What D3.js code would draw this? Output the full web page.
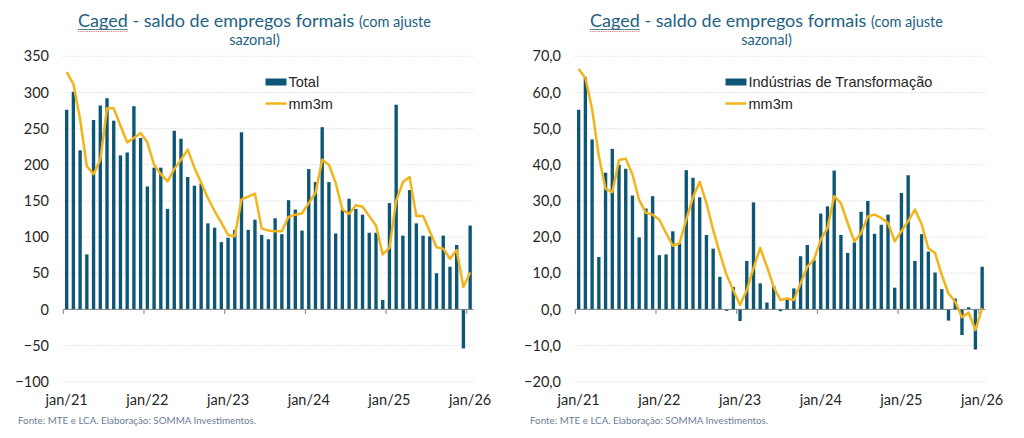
<!DOCTYPE html>
<html>
<head>
<meta charset="utf-8">
<script src="https://cdn.jsdelivr.net/npm/d3@7"></script>
<style>
  html, body { margin: 0; padding: 0; background: #fff; }
  svg { display: block; }
</style>
</head>
<body>
<div id="chart"></div>
<script>
// --- data (jan/21 .. jan/26, saldo mensal em mil)
const yearLabels = ['jan/21', 'jan/22', 'jan/23', 'jan/24', 'jan/25', 'jan/26'];

const total = [
  276, 301, 220, 76, 262, 282, 292, 261, 213, 217, 281, 237,
  170, 196, 196, 139, 247, 236, 183, 171, 174, 119, 113, 93,
  99, 110, 245, 110, 124, 103, 97, 126, 104, 151, 138, 109,
  194, 176, 252, 176, 105, 138, 153, 139, 131, 106, 106, 13,
  147, 283, 102, 165, 119, 102, 101, 50, 102, 59, 89, -54, 116
];
const totalMM3 = [
  328, 312, 263, 198, 187, 207, 278, 278, 254, 231, 237, 244,
  231, 200, 187, 177, 194, 207, 221, 196, 175, 154, 136, 120,
  103, 101, 152, 156, 160, 112, 109, 108, 108, 128, 131, 133,
  147, 161, 207, 200, 175, 138, 132, 144, 142, 129, 116, 76,
  85, 150, 176, 183, 129, 129, 108, 86, 84, 70, 82, 31, 51
];

const industria = [
  55.2, 64.2, 47.0, 14.5, 37.8, 44.4, 40.0, 38.9, 31.5, 19.9, 27.9, 31.3,
  15.0, 15.2, 21.6, 18.3, 38.5, 36.4, 31.0, 20.6, 16.8, 9.0, -0.4, 6.2,
  -3.2, 13.4, 29.6, 7.2, 1.9, 6.5, -0.5, 2.8, 5.8, 14.7, 17.8, 13.6,
  26.5, 28.5, 38.4, 20.6, 15.6, 18.5, 27.0, 30.0, 20.9, 23.4, 26.2, 6.0,
  32.2, 37.1, 13.4, 20.8, 16.0, 10.2, 5.6, -3.1, 3.0, -7.1, 0.6, -11.1, 11.8
];
const industriaMM3 = [
  66.5, 64.0, 55.4, 42.4, 33.3, 32.4, 41.3, 41.7, 37.3, 30.2, 26.7, 26.2,
  24.8, 21.1, 17.6, 18.3, 24.8, 31.0, 35.3, 29.4, 22.0, 15.5, 9.5, 5.3,
  1.2, 5.3, 11.4, 17.0, 11.8, 6.2, 2.6, 3.0, 2.6, 7.2, 11.8, 13.8,
  19.3, 22.5, 31.3, 29.4, 23.9, 18.8, 21.1, 25.7, 26.2, 25.3, 23.9, 18.8,
  21.6, 24.4, 27.6, 23.6, 16.9, 15.6, 9.5, 4.4, 2.1, -2.2, -0.9, -5.7, 0.3
];

const totalTicks = [-100, -50, 0, 50, 100, 150, 200, 250, 300, 350];
const industriaTicks = [-20, -10, 0, 10, 20, 30, 40, 50, 60, 70];

// --- constants
const width = 1024;
const height = 438;
const barColor = '#0d5675';
const lineColor = '#f1b41a';
const titleColor = '#22627f';
const tickFont = 'Lato, "Open Sans", sans-serif';

const ptBR = d3.formatLocale({ decimal: ',', thousands: '.', grouping: [3], currency: ['R$', ''] });

const svg = d3.select('#chart')
  .append('svg')
  .attr('width', width)
  .attr('height', height)
  .attr('viewBox', [0, 0, width, height]);

function drawPanel(opts) {
  const { offsetX, bars, line, ticks, tickFormat, legendLabel } = opts;
  const g = svg.append('g').attr('transform', `translate(${offsetX},0)`);

  const x0 = 63.3, x1 = 473.5;
  const x = d3.scaleBand()
    .domain(d3.range(bars.length))
    .range([x0, x1])
    .paddingInner(0.5)
    .paddingOuter(0.25);

  const y = d3.scaleLinear()
    .domain([ticks[0], ticks[ticks.length - 1]])
    .range([381.7, 56.3]);

  // --- title
  const title = g.append('text')
    .attr('x', 254.5)
    .attr('y', 27)
    .attr('text-anchor', 'middle')
    .attr('fill', titleColor)
    .attr('font-family', 'Lato, sans-serif');
  title.append('tspan').attr('font-size', 18).text('Caged - saldo de empregos formais ');
  title.append('tspan').attr('font-size', 14.5).text('(com ajuste');

  g.append('text')
    .attr('x', 254.5)
    .attr('y', 45)
    .attr('text-anchor', 'middle')
    .attr('fill', titleColor)
    .attr('font-family', 'Lato, sans-serif')
    .attr('font-size', 14.5)
    .text('sazonal)');

  // underline + spell-check squiggle under "Caged"
  const tb = title.node().getBBox();
  const cagedW = title.select('tspan').node().getSubStringLength(0, 5);
  g.append('line')
    .attr('x1', tb.x).attr('x2', tb.x + cagedW)
    .attr('y1', 29.5).attr('y2', 29.5)
    .attr('stroke', titleColor).attr('stroke-width', 0.8);
  g.append('line')
    .attr('x1', tb.x).attr('x2', tb.x + cagedW)
    .attr('y1', 31.5).attr('y2', 31.5)
    .attr('stroke', '#e06060').attr('stroke-width', 0.8)
    .attr('stroke-dasharray', '1.2 1');

  // --- grid
  g.append('g').selectAll('line')
    .data(ticks.filter(d => d !== 0))
    .join('line')
      .attr('x1', x0).attr('x2', x1)
      .attr('y1', d => y(d)).attr('y2', d => y(d))
      .attr('stroke', '#d6d6d6')
      .attr('stroke-width', 0.8)
      .attr('stroke-dasharray', '1.5 1.5');

  // --- y labels
  const yAxis = d3.axisLeft(y).tickValues(ticks).tickFormat(tickFormat).tickSize(0).tickPadding(0);
  const ya = g.append('g').attr('transform', 'translate(49,0)').call(yAxis);
  ya.select('.domain').remove();
  ya.selectAll('text')
    .attr('font-family', tickFont)
    .attr('font-size', 14.5)
    .attr('fill', '#262626');

  // --- bars
  g.append('g').selectAll('rect')
    .data(bars)
    .join('rect')
      .attr('x', (d, i) => x(i))
      .attr('width', x.bandwidth())
      .attr('y', d => y(Math.max(0, d)))
      .attr('height', d => Math.abs(y(d) - y(0)))
      .attr('fill', barColor);

  // --- zero axis + year ticks
  g.append('line')
    .attr('x1', x0).attr('x2', x1)
    .attr('y1', y(0)).attr('y2', y(0))
    .attr('stroke', '#7f7f7f').attr('stroke-width', 1);

  const yearIdx = yearLabels.map((_, k) => k * 12);
  g.append('g').selectAll('line')
    .data(yearIdx)
    .join('line')
      .attr('x1', i => x(i) - x.step() * x.paddingInner() / 2)
      .attr('x2', i => x(i) - x.step() * x.paddingInner() / 2)
      .attr('y1', y(0)).attr('y2', y(0) + 4.5)
      .attr('stroke', '#7f7f7f');

  // --- x labels
  g.append('g').selectAll('text')
    .data(yearLabels)
    .join('text')
      .attr('x', (d, k) => x(k * 12) + x.bandwidth() / 2)
      .attr('y', 405)
      .attr('text-anchor', 'middle')
      .attr('font-family', tickFont)
      .attr('font-size', 14.5)
      .attr('fill', '#262626')
      .text(d => d);

  // --- mm3m line
  const lineGen = d3.line()
    .x((d, i) => x(i) + x.bandwidth() / 2)
    .y(d => y(d));

  g.append('path')
    .datum(line)
    .attr('d', lineGen)
    .attr('fill', 'none')
    .attr('stroke', lineColor)
    .attr('stroke-width', 2.5)
    .attr('stroke-linejoin', 'round');

  // --- legend
  const lg = g.append('g').attr('transform', `translate(${opts.legendX},0)`);
  lg.append('rect')
    .attr('x', 0).attr('y', 78.5)
    .attr('width', 21).attr('height', 7)
    .attr('fill', barColor);
  lg.append('line')
    .attr('x1', 0).attr('x2', 21)
    .attr('y1', 103.5).attr('y2', 103.5)
    .attr('stroke', lineColor).attr('stroke-width', 2.5);
  lg.selectAll('text')
    .data([legendLabel, 'mm3m'])
    .join('text')
      .attr('x', 23)
      .attr('y', (d, i) => 86.5 + i * 22.5)
      .attr('font-family', '"Liberation Sans", Arial, sans-serif')
      .attr('font-size', 14.5)
      .attr('fill', '#262626')
      .text(d => d);

  // --- source
  g.append('text')
    .attr('x', 18)
    .attr('y', 424)
    .attr('font-family', 'Lato, sans-serif')
    .attr('font-size', 9.8)
    .attr('fill', '#6b7d96')
    .text('Fonte: MTE e LCA. Elaboração: SOMMA Investimentos.');
}

drawPanel({
  offsetX: 0,
  bars: total,
  line: totalMM3,
  ticks: totalTicks,
  tickFormat: d3.format('d'),
  legendLabel: 'Total',
  legendX: 265.5
});

drawPanel({
  offsetX: 512,
  bars: industria,
  line: industriaMM3,
  ticks: industriaTicks,
  tickFormat: ptBR.format('.1f'),
  legendLabel: 'Indústrias de Transformação',
  legendX: 213.5
});
</script>
</body>
</html>
